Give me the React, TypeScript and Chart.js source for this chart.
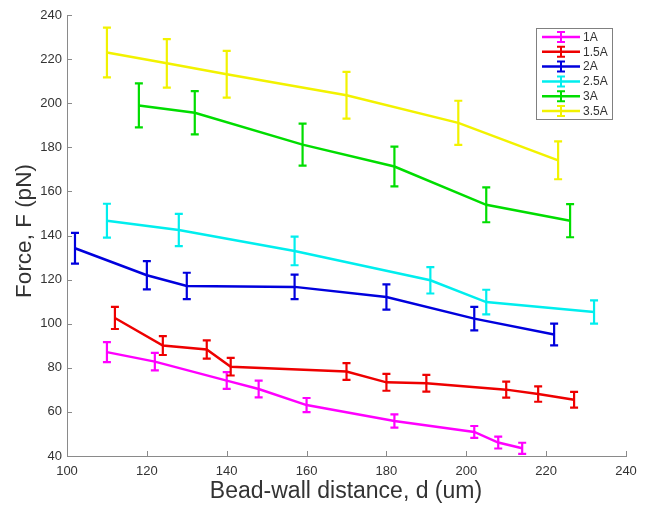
import React, { useEffect, useRef } from "react";
import { Chart, registerables } from "chart.js";

Chart.register(...registerables);

const seriesLabels = ["1A", "1.5A", "2A", "2.5A", "3A", "3.5A"];
const seriesColors = ["#ff00ff", "#ee0000", "#0000dd", "#00eeee", "#00dd00", "#f2f200"];

const x1A = [110, 122, 140, 148, 160, 182, 202, 208, 214];
const y1A = [87.1, 82.8, 74.2, 70.4, 63.1, 55.9, 50.9, 46.1, 43.5];
const e1A = [4.5, 4.0, 3.8, 3.8, 3.2, 3.0, 2.7, 2.7, 2.5];

const x15A = [112, 124, 135, 141, 170, 180, 190, 210, 218, 227];
const y15A = [102.6, 90.1, 88.3, 80.5, 78.3, 73.4, 73.0, 70.1, 68.1, 65.5];
const e15A = [5.0, 4.3, 4.1, 4.0, 3.8, 3.8, 3.8, 3.6, 3.5, 3.6];

const x2A = [102, 120, 130, 157, 180, 202, 222];
const y2A = [134.2, 122.0, 117.1, 116.7, 112.1, 102.3, 95.1];
const e2A = [7.0, 6.4, 6.0, 5.6, 5.7, 5.3, 4.9];

const x25A = [110, 128, 157, 191, 205, 232];
const y25A = [146.7, 142.5, 133.0, 119.7, 109.8, 105.3];
const e25A = [7.7, 7.3, 6.5, 6.0, 5.6, 5.3];

const x3A = [118, 132, 159, 182, 205, 226];
const y3A = [199.0, 195.7, 181.2, 171.3, 153.9, 146.7];
const e3A = [10.0, 9.8, 9.5, 9.0, 7.9, 7.5];

const x35A = [110, 125, 140, 170, 198, 223];
const y35A = [223.0, 218.1, 213.1, 203.6, 191.1, 174.1];
const e35A = [11.3, 11.0, 10.6, 10.6, 10.0, 8.6];

const xTicks = [100, 120, 140, 160, 180, 200, 220, 240];
const yTicks = [40, 60, 80, 100, 120, 140, 160, 180, 200, 220, 240];

const allX = [x1A, x15A, x2A, x25A, x3A, x35A];
const allY = [y1A, y15A, y2A, y25A, y3A, y35A];
const allE = [e1A, e15A, e2A, e25A, e3A, e35A];

const FONT = "'Liberation Sans', Arial, sans-serif";

const errorBarPlugin = {
  id: "errorBars",
  beforeDatasetsDraw(chart: any) {
    const ctx = chart.ctx;
    const xs = chart.scales.x;
    const ys = chart.scales.y;
    chart.data.datasets.forEach((ds: any, i: number) => {
      const errs = allE[i];
      ctx.save();
      ctx.strokeStyle = ds.borderColor;
      ctx.lineWidth = 2.2;
      ds.data.forEach((p: any, j: number) => {
        const px = xs.getPixelForValue(p.x);
        const top = ys.getPixelForValue(p.y + errs[j]);
        const bot = ys.getPixelForValue(p.y - errs[j]);
        ctx.beginPath();
        ctx.moveTo(px, top);
        ctx.lineTo(px, bot);
        ctx.moveTo(px - 4, top);
        ctx.lineTo(px + 4, top);
        ctx.moveTo(px - 4, bot);
        ctx.lineTo(px + 4, bot);
        ctx.stroke();
      });
      ctx.restore();
    });
  },
};

const decorPlugin = {
  id: "decor",
  afterDraw(chart: any) {
    const ctx = chart.ctx;
    const xs = chart.scales.x;
    const ys = chart.scales.y;
    const area = chart.chartArea;
    ctx.save();
    // inward ticks
    ctx.strokeStyle = "#8a8a8a";
    ctx.lineWidth = 1;
    ctx.beginPath();
    xTicks.forEach((v) => {
      const px = Math.round(xs.getPixelForValue(v)) + 0.5;
      ctx.moveTo(px, area.bottom);
      ctx.lineTo(px, area.bottom - 5);
    });
    yTicks.forEach((v) => {
      const py = Math.round(ys.getPixelForValue(v)) + 0.5;
      ctx.moveTo(area.left, py);
      ctx.lineTo(area.left + 5, py);
    });
    ctx.stroke();

    // axis titles
    ctx.fillStyle = "#333333";
    ctx.font = `23px ${FONT}`;
    ctx.textAlign = "center";
    ctx.textBaseline = "middle";
    ctx.fillText("Bead-wall distance, d (um)", 346, 492);
    ctx.save();
    ctx.translate(25, 231);
    ctx.rotate(-Math.PI / 2);
    ctx.font = `22.5px ${FONT}`;
    ctx.fillText("Force, F (pN)", 0, 0);
    ctx.restore();

    // legend
    const lx = 536.5, ly = 28.5, lw = 76, lh = 91;
    ctx.fillStyle = "#ffffff";
    ctx.fillRect(lx, ly, lw, lh);
    ctx.strokeStyle = "#808080";
    ctx.lineWidth = 1;
    ctx.strokeRect(lx, ly, lw, lh);
    ctx.font = `12px ${FONT}`;
    ctx.textAlign = "left";
    chart.data.datasets.forEach((ds: any, i: number) => {
      const cy = 37 + i * 14.8;
      ctx.strokeStyle = ds.borderColor;
      ctx.lineWidth = 2.5;
      ctx.beginPath();
      ctx.moveTo(542, cy);
      ctx.lineTo(580, cy);
      ctx.stroke();
      ctx.lineWidth = 2;
      ctx.beginPath();
      ctx.moveTo(561, cy - 5);
      ctx.lineTo(561, cy + 5);
      ctx.moveTo(557, cy - 5);
      ctx.lineTo(565, cy - 5);
      ctx.moveTo(557, cy + 5);
      ctx.lineTo(565, cy + 5);
      ctx.stroke();
      ctx.fillStyle = "#333333";
      ctx.fillText(ds.label, 583, cy + 0.5);
    });
    ctx.restore();
  },
};

export default function App() {
  const ref = useRef<HTMLCanvasElement | null>(null);
  useEffect(() => {
    document.body.style.margin = "0";
    if (!ref.current) return;
    const datasets = seriesLabels.map((label, i) => ({
      label,
      data: allX[i].map((x, j) => ({ x, y: allY[i][j] })),
      borderColor: seriesColors[i],
      backgroundColor: seriesColors[i],
      borderWidth: 2.5,
      pointRadius: 0,
      tension: 0,
      fill: false,
    }));
    const chart = new Chart(ref.current, {
      type: "line",
      data: { datasets },
      plugins: [errorBarPlugin, decorPlugin],
      options: {
        animation: false,
        responsive: false,
        events: [],
        layout: { padding: { top: 15, right: 20, left: 0, bottom: 0 } },
        plugins: { legend: { display: false }, tooltip: { enabled: false } },
        scales: {
          x: {
            type: "linear",
            min: 100,
            max: 240,
            afterFit: (s: any) => {
              s.height = 52;
            },
            afterBuildTicks: (s: any) => {
              s.ticks = xTicks.map((v) => ({ value: v }));
            },
            grid: { display: false, drawTicks: false },
            border: { display: true, color: "#8a8a8a", width: 1 },
            ticks: { color: "#333333", font: { family: FONT, size: 13 }, padding: 8, maxRotation: 0 },
          },
          y: {
            type: "linear",
            min: 40,
            max: 240,
            afterFit: (s: any) => {
              s.width = 67;
            },
            afterBuildTicks: (s: any) => {
              s.ticks = yTicks.map((v) => ({ value: v }));
            },
            grid: { display: false, drawTicks: false },
            border: { display: true, color: "#8a8a8a", width: 1 },
            ticks: { color: "#333333", font: { family: FONT, size: 13 }, padding: 5 },
          },
        },
      },
    });
    return () => chart.destroy();
  }, []);
  return <canvas ref={ref} width={646} height={508} style={{ display: "block" }} />;
}
